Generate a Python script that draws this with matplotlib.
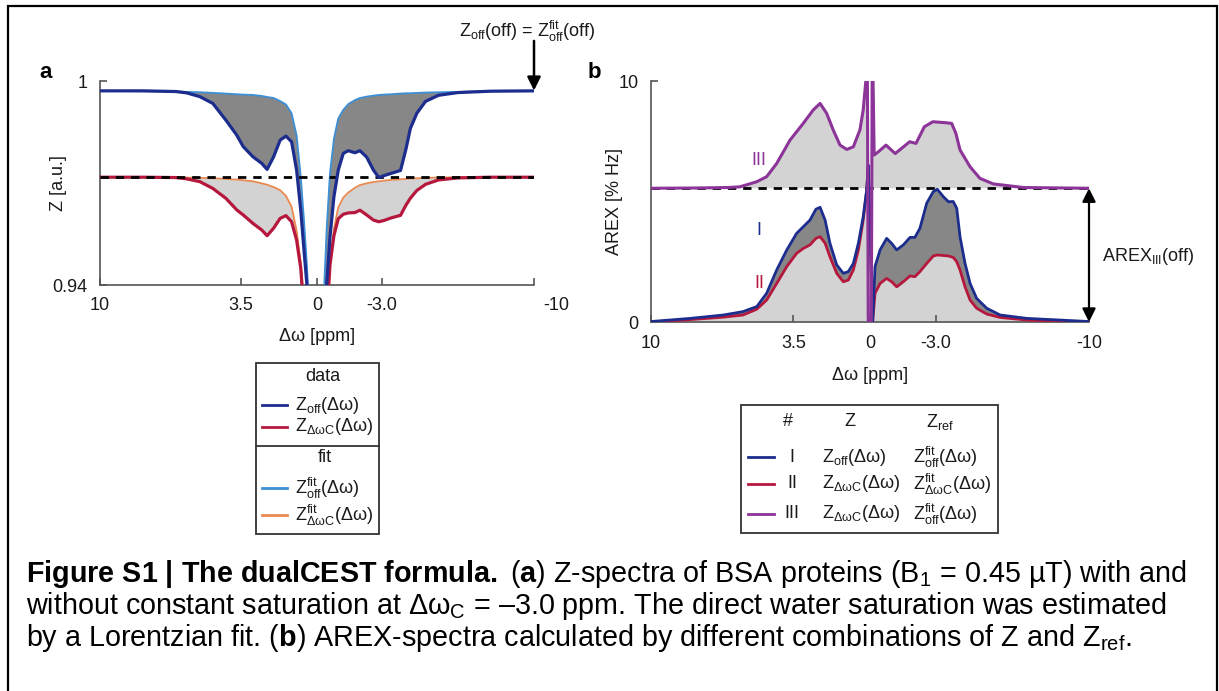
import numpy as np
import matplotlib
matplotlib.use('Agg')
import matplotlib.pyplot as plt
from matplotlib.patches import Rectangle
from matplotlib.lines import Line2D
import matplotlib.transforms as mtransforms

plt.rcParams['font.family'] = 'Liberation Sans'
plt.rcParams['mathtext.fontset'] = 'custom'
plt.rcParams['mathtext.rm'] = 'Liberation Sans'
plt.rcParams['mathtext.it'] = 'Liberation Sans:italic'
plt.rcParams['mathtext.bf'] = 'Liberation Sans:bold'

# ---- panel a: Z-spectra (ppm, Z) ----
ppm_a = [10, 8, 6.5, 6.0, 5.4, 4.8, 4.2, 3.7, 3.4, 2.95, 2.55, 2.3, 2.0, 1.7, 1.43, 1.17,
         0.94, 0.75, 0.6, 0.47, 0.3, 0.0, -0.3, -0.45, -0.6, -0.78, -0.98, -1.21, -1.44,
         -1.75, -1.98, -2.29, -2.6, -2.85, -3.1, -3.4, -3.85, -4.1, -4.3, -4.6, -5.0, -5.6,
         -6.5, -8, -10]
z_off = [0.9971, 0.9971, 0.9969, 0.9965, 0.9954, 0.9934, 0.9885, 0.9841, 0.9807, 0.9777,
         0.9758, 0.9740, 0.9777, 0.9826, 0.9838, 0.9821, 0.9738, 0.9621, 0.9503, 0.9405,
         0.910, 0.850, 0.925, 0.9405, 0.9542, 0.9660, 0.9738, 0.9787, 0.9795, 0.9789,
         0.9795, 0.9776, 0.9738, 0.9716, 0.9722, 0.9728, 0.9737, 0.9800, 0.9860, 0.9905,
         0.9940, 0.9958, 0.9966, 0.9970, 0.9971]
z_sat = [0.9717, 0.9717, 0.9716, 0.9712, 0.9704, 0.9684, 0.9655, 0.9621, 0.9606, 0.9581,
         0.9562, 0.9545, 0.9567, 0.9596, 0.9604, 0.9586, 0.9532, 0.9450, 0.932, 0.920,
         0.900, 0.850, 0.900, 0.930, 0.9460, 0.9545, 0.9595, 0.9608, 0.9612, 0.9613,
         0.9620, 0.9606, 0.9591, 0.9586, 0.9590, 0.9597, 0.9605, 0.9635, 0.9655, 0.9678,
         0.9696, 0.9709, 0.9715, 0.9717, 0.9717]
z_off_fit = [0.9971, 0.9970, 0.9969, 0.9968, 0.9967, 0.9965, 0.9963, 0.9961, 0.9960, 0.9959,
             0.9956, 0.9953, 0.9950, 0.9941, 0.9931, 0.9905, 0.9840, 0.9719, 0.9591, 0.9465,
             0.925, 0.850, 0.935, 0.9571, 0.9730, 0.9830, 0.9890, 0.9915, 0.9932, 0.9944,
             0.9950, 0.9954, 0.9957, 0.9959, 0.9960, 0.9961, 0.9963, 0.9964, 0.9964, 0.9965,
             0.9966, 0.9967, 0.9968, 0.9970, 0.9971]
z_sat_fit = [0.9717, 0.9717, 0.9717, 0.9716, 0.9715, 0.9714, 0.9712, 0.9710, 0.9708, 0.9705,
             0.9699, 0.9695, 0.9688, 0.9679, 0.9662, 0.9630, 0.9560, 0.9465, 0.935, 0.920,
             0.900, 0.850, 0.910, 0.935, 0.9470, 0.9565, 0.9628, 0.9657, 0.9672, 0.9686,
             0.9694, 0.9699, 0.9703, 0.9705, 0.9707, 0.9709, 0.9711, 0.9712, 0.9713, 0.9714,
             0.9715, 0.9716, 0.9717, 0.9717, 0.9717]
z_off_level = 0.9972
z_sat_level = 0.9717

# ---- panel b: AREX spectra ----
ppm_b = [10, 8.2, 6.7, 5.8, 5.17, 4.72, 4.26, 3.8, 3.35, 3.05, 2.74, 2.47, 2.28, 2.05, 1.83,
         1.52, 1.22, 0.99, 0.76, 0.53, 0.31, 0.15, 0.08, -0.12, -0.23, -0.46, -0.76, -0.99,
         -1.22, -1.52, -1.83, -2.05, -2.28, -2.59, -2.89, -3.07, -3.35, -3.58, -3.80, -3.96,
         -4.11, -4.34, -4.57, -4.87, -5.33, -5.94, -7.16, -10]
arex_1 = [0.02, 0.15, 0.29, 0.43, 0.64, 1.19, 2.16, 2.99, 3.68, 3.95, 4.23, 4.68, 4.76, 4.23,
          3.27, 2.37, 2.02, 2.09, 2.43, 3.27, 4.37, 5.48, 6.5, 0.0, 2.30, 2.99, 3.47, 3.26,
          2.99, 3.20, 3.51, 3.51, 3.89, 4.93, 5.41, 5.51, 5.20, 4.99, 5.00, 4.72, 3.54, 2.43,
          1.60, 0.98, 0.57, 0.29, 0.15, 0.02]
arex_2 = [0.0, 0.10, 0.20, 0.29, 0.53, 0.91, 1.60, 2.30, 2.85, 3.05, 3.20, 3.47, 3.54, 3.27,
          2.71, 2.02, 1.67, 1.74, 2.16, 2.99, 4.23, 5.48, 6.5, 0.0, 1.19, 1.60, 1.81, 1.67,
          1.46, 1.67, 1.91, 1.88, 2.09, 2.43, 2.74, 2.78, 2.76, 2.74, 2.68, 2.50, 2.16, 1.46,
          0.91, 0.57, 0.33, 0.19, 0.08, 0.0]
ppm_b3 = [10, 8, 6.5, 5.94, 5.17, 4.72, 4.26, 3.65, 3.05, 2.59, 2.28, 1.98, 1.68, 1.37, 1.06,
          0.76, 0.46, 0.31, 0.2, 0.14, 0.12, 0.08, -0.06, -0.1, -0.13, -0.19, -0.38, -0.73,
          -1.15, -1.53, -1.81, -2.10, -2.48, -2.87, -3.44, -3.73, -3.92, -4.11, -4.57, -5.02,
          -5.63, -7, -10]
arex_3 = [5.55, 5.56, 5.58, 5.61, 5.82, 6.03, 6.58, 7.55, 8.24, 8.80, 9.07, 8.66, 7.97, 7.34,
          7.16, 7.27, 7.97, 8.80, 9.9, 10.6, 10.6, -0.2, -0.2, 10.6, 10.6, 6.93, 7.06, 7.34,
          6.99, 7.27, 7.48, 7.41, 8.10, 8.31, 8.27, 8.24, 7.83, 7.14, 6.44, 5.96, 5.73, 5.58,
          5.55]
arex_3_off = 5.55

tick_pos = [10, 3.5, 0, -3, -10]
tick_lab = ['10', '3.5', '0', '-3.0', '-10']

BLUE = '#1c2d8e'
LBLUE = '#3d8fd6'
RED = '#b5173d'
ORANGE = '#ea8a50'
PURPLE = '#8c3498'
DGRAY = '#878787'
LGRAY = '#d3d3d3'
AX = '#555555'
TXT = '#1a1a1a'

W, H = 1219, 691
fig = plt.figure(figsize=(W / 100, H / 100), dpi=100)


def fx(px):
    return px / W


def fy(py):
    return 1 - py / H


def style(ax):
    for s in ['top', 'right']:
        ax.spines[s].set_visible(False)
    for s in ['left', 'bottom']:
        ax.spines[s].set_color(AX)
        ax.spines[s].set_linewidth(1.2)
    ax.tick_params(direction='in', length=5, width=1.2, color=AX, labelsize=13,
                   labelcolor=TXT, pad=9)
    ax.set_xlim(10, -10)
    ax.set_xticks(tick_pos)
    ax.set_xticklabels(tick_lab)


# ---------------- panel a ----------------
axa = fig.add_axes([fx(100), fy(285), (534 - 100) / W, (285 - 81) / H])
style(axa)
axa.set_ylim(0.94, 1.0)
axa.set_yticks([0.94, 1.0])
axa.set_yticklabels(['0.94', '1'])
# the "-10" label of panel a sits a bit right of its tick
lab = axa.get_xticklabels()[-1]
lab.set_transform(lab.get_transform() + mtransforms.ScaledTranslation(0.22, 0, fig.dpi_scale_trans))

x = np.array(ppm_a)
axa.fill_between(x, z_off, z_off_fit, where=np.array(z_off) <= np.array(z_off_fit),
                 color=DGRAY, lw=0, interpolate=True, zorder=1)
axa.fill_between(x, z_sat, z_sat_fit, where=np.array(z_sat) <= np.array(z_sat_fit),
                 color=LGRAY, lw=0, interpolate=True, zorder=1)
axa.plot(x, z_off_fit, color=LBLUE, lw=1.3, zorder=3)
axa.plot(x, z_sat_fit, color=ORANGE, lw=1.3, zorder=3)
axa.plot(x, z_sat, color=RED, lw=2.3, zorder=4)
axa.plot([10, -10], [z_sat_level, z_sat_level], color='black', lw=2, ls=(0, (3, 2.5)), zorder=5)
axa.plot(x, z_off, color=BLUE, lw=2.3, zorder=6)
axa.set_ylabel('Z [a.u.]', fontsize=13, color=TXT)
axa.yaxis.set_label_coords(-0.076, 0.5)
axa.set_xlabel('Δω [ppm]', fontsize=13, color=TXT)
axa.xaxis.set_label_coords(0.5, -0.211)

axa.annotate('', xy=(-10, z_off_level), xytext=(-10, 1.0118), annotation_clip=False,
             arrowprops=dict(arrowstyle='-|>', color='black', lw=1.8, mutation_scale=20,
                             shrinkA=0, shrinkB=0))
axa.text(-9.68, 1.0146, r'Z$_\mathregular{off}$(off) = Z$^\mathregular{fit}_\mathregular{off}$(off)',
         fontsize=13, ha='center', va='center', color=TXT, clip_on=False)

# ---------------- panel b ----------------
axb = fig.add_axes([fx(651), fy(322), (1089 - 651) / W, (322 - 81) / H])
style(axb)
axb.set_ylim(0, 10)
axb.set_yticks([0, 10])
axb.set_yticklabels(['0', '10'])

xb = np.array(ppm_b)
a1 = np.array(arex_1)
a2 = np.array(arex_2)
xb3 = np.array(ppm_b3)
a3 = np.array(arex_3)
axb.fill_between(xb, 0, a2, color=LGRAY, lw=0, zorder=1)
axb.fill_between(xb, a2, a1, where=a1 >= a2, color=DGRAY, lw=0, interpolate=True, zorder=1)
axb.fill_between(xb3, arex_3_off, a3, where=a3 >= arex_3_off, color=LGRAY, lw=0,
                 interpolate=True, zorder=1)
axb.plot([10, -10], [arex_3_off, arex_3_off], color='black', lw=2, ls=(0, (3, 2.5)), zorder=3)
axb.plot(xb, a2, color=RED, lw=2.0, zorder=4)
axb.plot(xb, a1, color=BLUE, lw=2.0, zorder=5)
axb.plot(xb3, a3, color=PURPLE, lw=2.2, zorder=6)

axb.text(5.06, 6.72, 'III', color=PURPLE, fontsize=13, ha='center', va='center')
axb.text(5.06, 3.81, 'I', color=BLUE, fontsize=13, ha='center', va='center')
axb.text(5.06, 1.59, 'II', color=RED, fontsize=13, ha='center', va='center')

axb.annotate('', xy=(-10, 0), xytext=(-10, arex_3_off), annotation_clip=False,
             arrowprops=dict(arrowstyle='<|-|>', color='black', lw=1.6, mutation_scale=20,
                             shrinkA=0, shrinkB=0))
axb.text(-10.6, 2.7, r'AREX$_\mathregular{III}$(off)', fontsize=13, ha='left', va='center',
         color=TXT, clip_on=False)
axb.set_ylabel('AREX [% Hz]', fontsize=13, color=TXT)
axb.yaxis.set_label_coords(-0.064, 0.5)
axb.set_xlabel('Δω [ppm]', fontsize=13, color=TXT)
axb.xaxis.set_label_coords(0.5, -0.187)

# panel letters
fig.text(fx(46), fy(73), 'a', fontsize=16, weight='bold', ha='center', va='center')
fig.text(fx(594), fy(73), 'b', fontsize=16, weight='bold', ha='center', va='center')

# ---------------- legend a ----------------
fig.add_artist(Rectangle((fx(256), fy(534)), (379 - 256) / W, (534 - 363) / H,
                         transform=fig.transFigure, fill=False, ec='#333333', lw=1.3))
fig.add_artist(Line2D([fx(256), fx(379)], [fy(446), fy(446)], transform=fig.transFigure,
                      color='#333333', lw=1.3))
fig.text(fx(323), fy(377), 'data', fontsize=13, ha='center', va='center', color=TXT)
fig.text(fx(325), fy(458), 'fit', fontsize=13, ha='center', va='center', color=TXT)
leg_a = [(405, BLUE, r'$\mathregular{Z_{off}(Δω)}$'),
         (427, RED, r'$\mathregular{Z_{ΔωC}(Δω)}$'),
         (488, LBLUE, r'$\mathregular{Z^{fit}_{off}(Δω)}$'),
         (515, ORANGE, r'$\mathregular{Z^{fit}_{ΔωC}(Δω)}$')]
for py, col, txt in leg_a:
    fig.add_artist(Line2D([fx(262), fx(287)], [fy(py), fy(py)], transform=fig.transFigure,
                          color=col, lw=2))
    fig.text(fx(295), fy(py), txt, fontsize=13, ha='left', va='center', color=TXT)

# ---------------- legend b ----------------
fig.add_artist(Rectangle((fx(741), fy(533)), (998 - 741) / W, (533 - 405) / H,
                         transform=fig.transFigure, fill=False, ec='#333333', lw=1.3))
fig.text(fx(788), fy(422), '#', fontsize=13, ha='center', va='center', color=TXT)
fig.text(fx(850), fy(422), 'Z', fontsize=13, ha='center', va='center', color=TXT)
fig.text(fx(940), fy(422), r'$\mathregular{Z_{ref}}$', fontsize=13, ha='center', va='center',
         color=TXT)
leg_b = [(457, BLUE, 'I', r'$\mathregular{Z_{off}(Δω)}$', r'$\mathregular{Z^{fit}_{off}(Δω)}$'),
         (484, RED, 'II', r'$\mathregular{Z_{ΔωC}(Δω)}$', r'$\mathregular{Z^{fit}_{ΔωC}(Δω)}$'),
         (514, PURPLE, 'III', r'$\mathregular{Z_{ΔωC}(Δω)}$', r'$\mathregular{Z^{fit}_{off}(Δω)}$')]
for py, col, num, zl, zr in leg_b:
    fig.add_artist(Line2D([fx(748), fx(774)], [fy(py), fy(py)], transform=fig.transFigure,
                          color=col, lw=2))
    fig.text(fx(792), fy(py), num, fontsize=13, ha='center', va='center', color=TXT)
    fig.text(fx(822), fy(py), zl, fontsize=13, ha='left', va='center', color=TXT)
    fig.text(fx(913), fy(py), zr, fontsize=13, ha='left', va='center', color=TXT)

# ---------------- caption ----------------
cap = [r'$\mathbf{Figure\ S1\ |\ The\ dualCEST\ formula.}$ ($\mathbf{a}$) Z-spectra of BSA '
       r'proteins (B$_\mathregular{1}$ = 0.45 µT) with and',
       r'without constant saturation at Δω$_\mathregular{C}$ = –3.0 ppm. The direct water '
       r'saturation was estimated',
       r'by a Lorentzian fit. ($\mathbf{b}$) AREX-spectra calculated by different combinations '
       r'of Z and Z$_\mathregular{ref}$.']
for i, line in enumerate(cap):
    fig.text(fx(26), fy(574 + 32 * i), line, fontsize=20.7, ha='left', va='center',
             color='black')

# outer frame
fig.add_artist(Rectangle((fx(8), fy(720)), (1217 - 8) / W, (720 - 6) / H,
                         transform=fig.transFigure, fill=False, ec='black', lw=1.6,
                         clip_on=False))

fig.savefig('out.png', dpi=100)
